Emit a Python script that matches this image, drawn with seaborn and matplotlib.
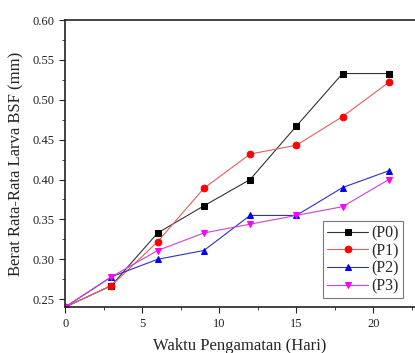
import numpy as np
import pandas as pd
import matplotlib
matplotlib.use("Agg")
import matplotlib.pyplot as plt
import seaborn as sns
from matplotlib.ticker import MultipleLocator

# data
hari = [0, 3, 6, 9, 12, 15, 18, 21]
p0 = [0.240, 0.267, 0.333, 0.367, 0.400, 0.467, 0.533, 0.533]
p1 = [0.240, 0.267, 0.322, 0.389, 0.432, 0.443, 0.479, 0.522]
p2 = [0.240, 0.278, 0.300, 0.311, 0.355, 0.355, 0.390, 0.411]
p3 = [0.240, 0.278, 0.311, 0.333, 0.344, 0.355, 0.366, 0.400]
labels = ["(P0)", "(P1)", "(P2)", "(P3)"]

sns.set_style("ticks")
plt.rcParams["font.family"] = ["Liberation Serif", "DejaVu Serif"]

df = pd.DataFrame({"hari": hari * 4,
                   "berat": p0 + p1 + p2 + p3,
                   "grup": np.repeat(labels, len(hari))})

fig = plt.figure(figsize=(4.15, 3.53), dpi=100)
ax = fig.add_axes([0.157, 0.130, 0.843, 0.813])

warna_garis = ["#333333", "#e06060", "#3030c0", "#d040d0"]
warna_marker = ["black", "red", "blue", "magenta"]
markers = ["s", "o", "^", "v"]
for lab, lc, mc, m in zip(labels, warna_garis, warna_marker, markers):
    sub = df[df["grup"] == lab]
    sns.lineplot(data=sub, x="hari", y="berat", ax=ax, color=lc, lw=0.8,
                 marker=m, markersize=4.8, markerfacecolor=mc, markeredgecolor=mc,
                 label=lab)

ax.set_xlim(0, 22.7)
ax.set_ylim(0.24, 0.60)
ax.xaxis.set_major_locator(MultipleLocator(5))
ax.xaxis.set_minor_locator(MultipleLocator(2.5))
ax.yaxis.set_major_locator(MultipleLocator(0.05))
ax.yaxis.set_minor_locator(MultipleLocator(0.025))
ax.tick_params(which="both", direction="out", labelsize=9, colors="#222222")
ax.tick_params(which="major", length=4)
ax.tick_params(which="minor", length=2.5)
ax.yaxis.set_major_formatter(plt.FuncFormatter(lambda v, p: f"{v:.2f}"))
for s in ax.spines.values():
    s.set_linewidth(1.2)
    s.set_color("#222222")
ax.spines["right"].set_visible(False)

ax.set_xlabel("Waktu Pengamatan (Hari)", fontsize=12, labelpad=6)
ax.set_ylabel("Berat Rata-Rata Larva BSF (mm)", fontsize=12, labelpad=6)

leg = ax.legend(loc="lower right", bbox_to_anchor=(0.975, 0.02), fontsize=11.5,
                frameon=True, fancybox=False, handlelength=2.6,
                handletextpad=0.2, labelspacing=0.1, borderpad=0.25,
                borderaxespad=0.2)
leg.get_frame().set_edgecolor("#555555")
leg.get_frame().set_linewidth(0.8)

fig.savefig("out.png", dpi=100)
